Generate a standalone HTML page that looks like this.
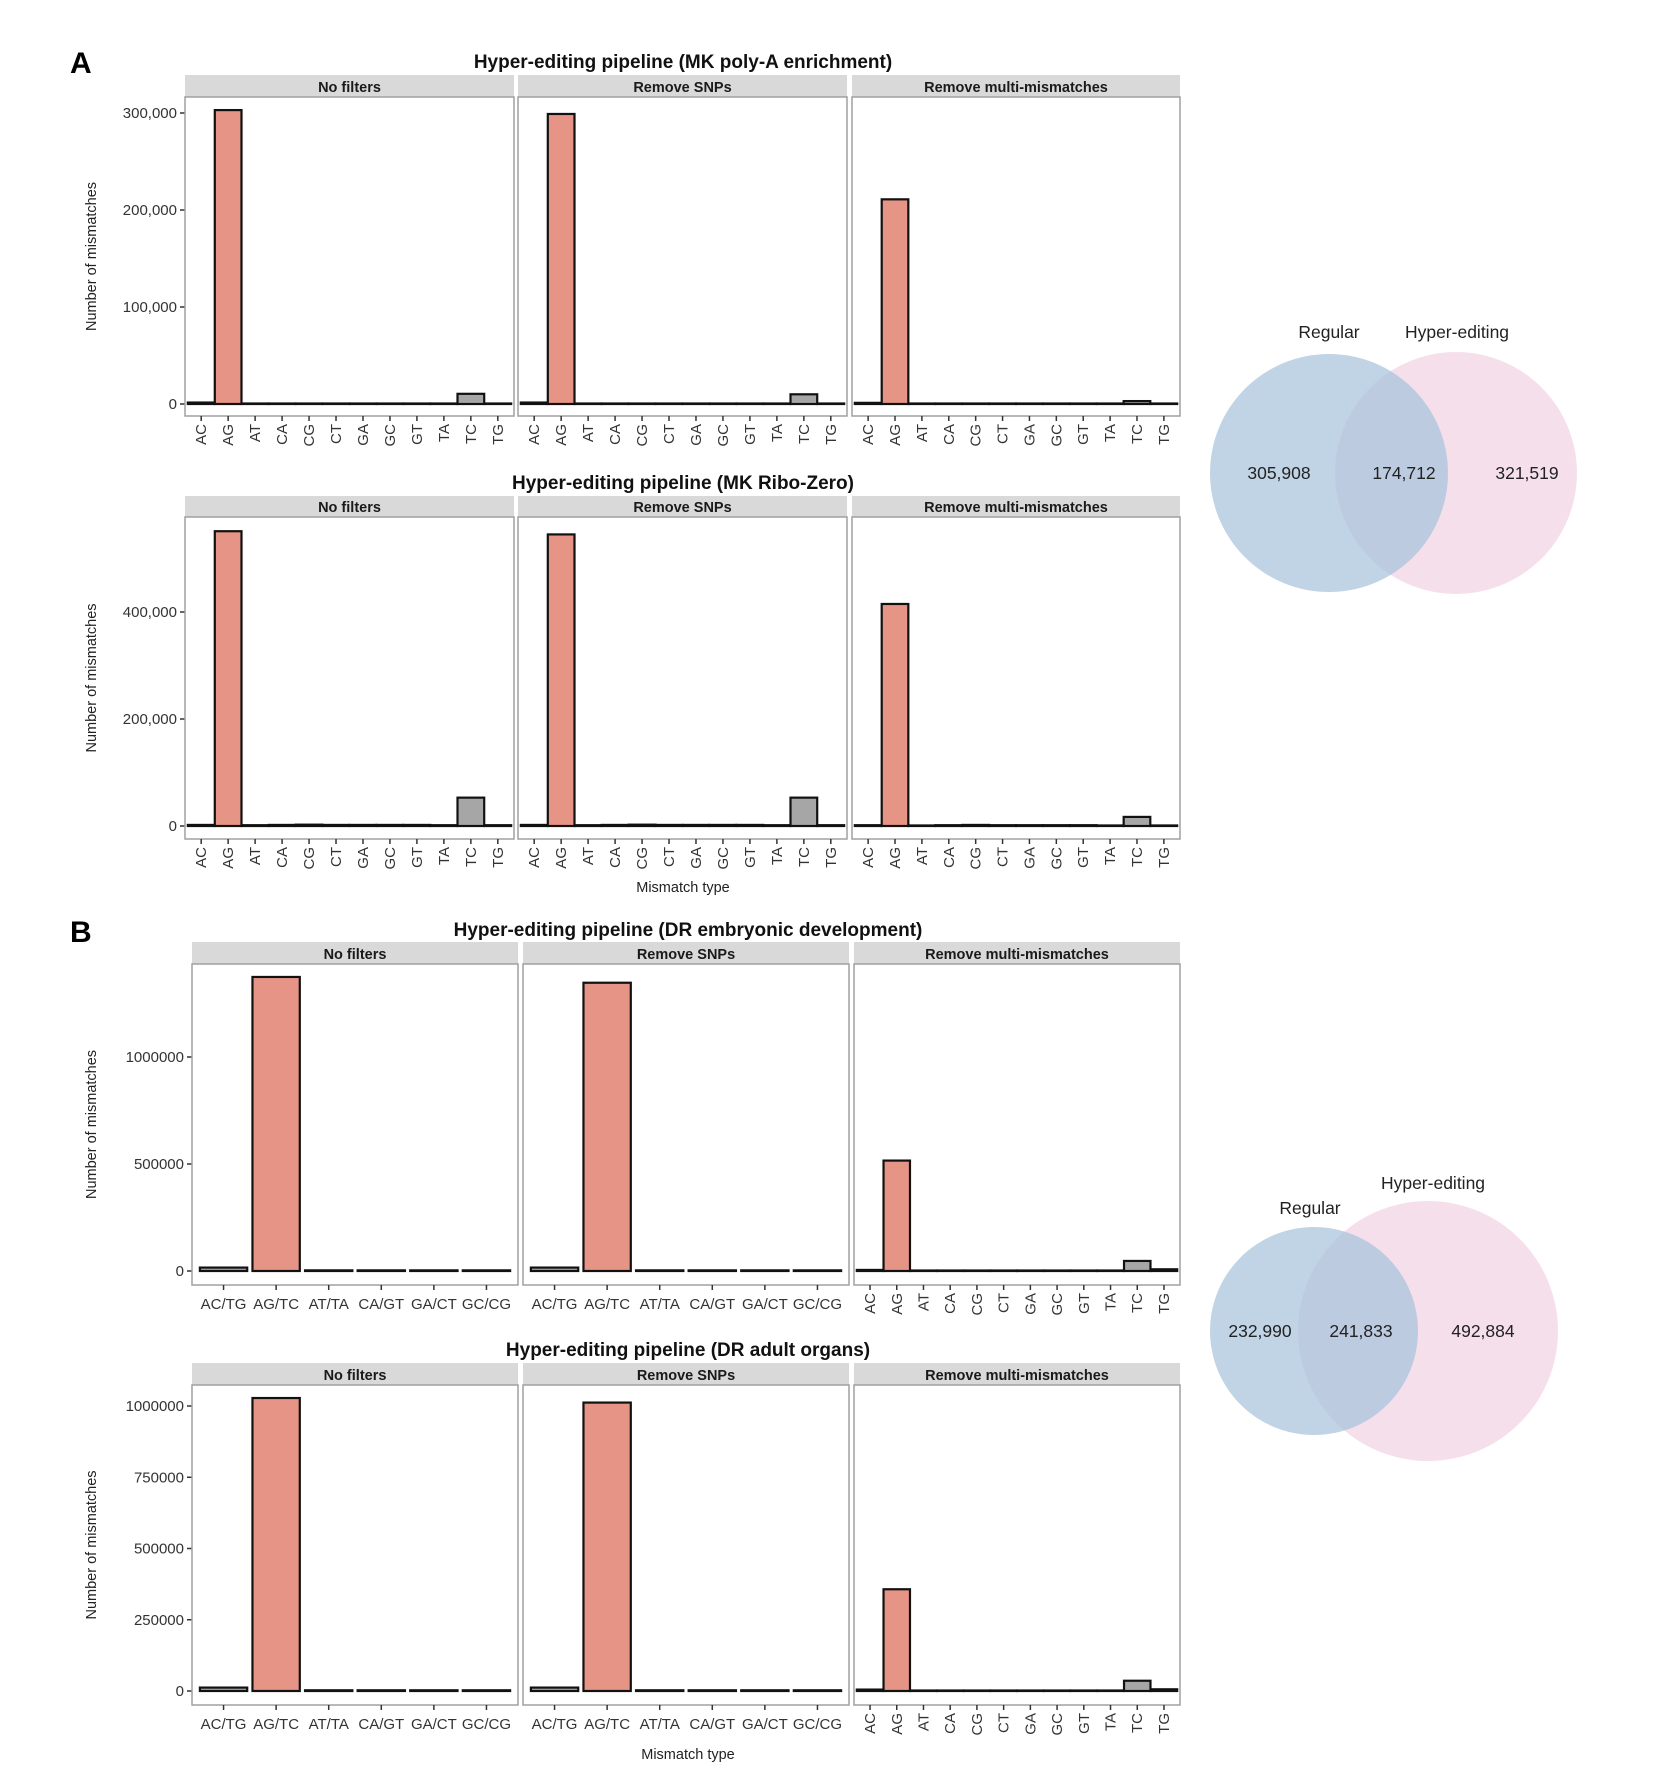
<!DOCTYPE html>
<html><head><meta charset="utf-8"><style>
body{margin:0;background:#fff;}
svg{display:block;font-family:"Liberation Sans",Arial,sans-serif;}
</style></head><body>
<svg id="fig" width="1672" height="1776" viewBox="0 0 1672 1776"></svg>
<script>
// ---------- data ----------
const cats12 = ["AC","AG","AT","CA","CG","CT","GA","GC","GT","TA","TC","TG"];
const cats6 = ["AC/TG","AG/TC","AT/TA","CA/GT","GA/CT","GC/CG"];
const facetNames = ["No filters","Remove SNPs","Remove multi-mismatches"];

const polyA_noFilter = [1500,303000,300,300,300,300,300,300,300,300,10500,300];
const polyA_removeSNP = [1500,299000,300,300,300,300,300,300,300,300,10000,300];
const polyA_multi = [1200,211000,200,200,200,200,200,200,200,200,3000,200];
const polyA_ticks = [0,100000,200000,300000];
const polyA_tickLabels = ["0","100,000","200,000","300,000"];

const ribo_noFilter = [2000,551000,1500,2000,2500,2000,2000,2000,2000,1500,53000,1500];
const ribo_removeSNP = [2000,545000,1500,2000,2500,2000,2000,2000,2000,1500,53000,1500];
const ribo_multi = [1500,415000,1000,1500,2000,1500,1500,1500,1500,1000,17000,1000];
const ribo_ticks = [0,200000,400000];
const ribo_tickLabels = ["0","200,000","400,000"];

const embryo_noFilter = [16000,1374000,3000,3000,3000,3000];
const embryo_removeSNP = [16000,1347000,3000,3000,3000,3000];
const embryo_multi = [5000,516000,2000,2000,2000,2000,2000,2000,2000,2000,47000,8000];
const embryo_ticks = [0,500000,1000000];
const embryo_tickLabels = ["0","500000","1000000"];

const adult_noFilter = [12000,1028000,2500,2500,2500,2500];
const adult_removeSNP = [12000,1012000,2500,2500,2500,2500];
const adult_multi = [5000,357000,1500,1500,1500,1500,1500,1500,1500,1500,36000,6000];
const adult_ticks = [0,250000,500000,750000,1000000];
const adult_tickLabels = ["0","250000","500000","750000","1000000"];

const venn1 = [305908,174712,321519];
const venn2 = [232990,241833,492884];

// ---------- drawing ----------
const NS="http://www.w3.org/2000/svg";
const svg=document.getElementById('fig');
function mk(tag,attrs,parent){const e=document.createElementNS(NS,tag);for(const k in attrs)e.setAttribute(k,attrs[k]);(parent||svg).appendChild(e);return e;}
function txt(s,attrs,parent){const e=mk('text',attrs,parent);e.textContent=s;return e;}
const fmt=v=>v.toLocaleString('en-US');

function drawRow(cfg){
  const g=mk('g',{});
  
  
  const t=txt(cfg.title,{x:cfg.titleX,y:cfg.titleY,'text-anchor':'middle','font-size':19,'font-weight':'bold',fill:'#111'},g);
  
  
  const yScale=v=>cfg.zeroY-(v-0)*cfg.pxPerUnit;
  cfg.ticks.forEach((tv,i)=>{
    const y=yScale(tv);
    mk('line',{x1:cfg.panels[0][0]-5,x2:cfg.panels[0][0],y1:y,y2:y,stroke:'#333','stroke-width':1.5},g);
    const l=txt(cfg.tickLabels[i],{x:cfg.panels[0][0]-8,y:y+5,'text-anchor':'end','font-size':15,fill:'#333'},g);
    
    
  });
  const yt=txt('Number of mismatches',{x:0,y:0,'text-anchor':'middle','font-size':14.5,fill:'#222',transform:`translate(${cfg.yTitleX},${(cfg.plotTop+cfg.plotBottom)/2}) rotate(-90)`},g);
  
  
  cfg.panels.forEach((p,pi)=>{
    const [x0,x1]=p;
    const pg=mk('g',{},g);
    
    
    mk('rect',{x:x0,y:cfg.stripTop,width:x1-x0,height:cfg.plotTop-cfg.stripTop,fill:'#d9d9d9'},pg);
    const st=txt(facetNames[pi],{x:(x0+x1)/2,y:cfg.plotTop-5,'text-anchor':'middle','font-size':14.5,'font-weight':'bold',fill:'#1a1a1a'},pg);
    
    
    mk('rect',{x:x0,y:cfg.plotTop,width:x1-x0,height:cfg.plotBottom-cfg.plotTop,fill:'#fff',stroke:'#a0a0a0','stroke-width':1.5},pg);
    const cats=cfg.catsPerPanel[pi], vals=cfg.values[pi];
    const n=cats.length, unit=(x1-x0)/(n-1+1.2);
    const xc=i=>x0+unit*(0.6+i);
    const bw=n>6?unit*0.99:unit*0.9;
    vals.forEach((v,i)=>{
      const top=yScale(v), h=Math.max(cfg.zeroY-top,0.5);
      const fill=cats[i]==='AG'||cats[i]==='AG/TC'?'#e69486':'#a6a6a6';
      const r=mk('rect',{x:xc(i)-bw/2,y:cfg.zeroY-h,width:bw,height:h,fill:fill,stroke:'#111','stroke-width':2.2},pg);
      
      
    });
    cats.forEach((c,i)=>{
      const x=xc(i);
      mk('line',{x1:x,x2:x,y1:cfg.plotBottom,y2:cfg.plotBottom+5,stroke:'#333','stroke-width':1.5},pg);
      let l;
      if(n>6){
        l=txt(c,{x:0,y:0,'text-anchor':'end','font-size':15,fill:'#333',transform:`translate(${x+5},${cfg.plotBottom+8}) rotate(-90)`},pg);
      } else {
        l=txt(c,{x:x,y:cfg.plotBottom+24,'text-anchor':'middle','font-size':15,fill:'#333'},pg);
      }
      
      
    });
  });
  if(cfg.xTitleY){
    const xt=txt('Mismatch type',{x:cfg.xTitleX,y:cfg.xTitleY,'text-anchor':'middle','font-size':14.5,fill:'#222'},g);
    
    
  }
}

const panA=[[185,514],[518,847],[852,1180]];
const panB=[[192,518],[523,849],[854,1180]];

drawRow({name:'chart-mk-polya',title:'Hyper-editing pipeline (MK poly-A enrichment)',titleX:683,titleY:68,
  panels:panA,stripTop:75,plotTop:97,plotBottom:416,zeroY:404,pxPerUnit:291/300000,
  ticks:polyA_ticks,tickLabels:polyA_tickLabels,yTitleX:96,
  catsPerPanel:[cats12,cats12,cats12],values:[polyA_noFilter,polyA_removeSNP,polyA_multi]});
drawRow({name:'chart-mk-ribozero',title:'Hyper-editing pipeline (MK Ribo-Zero)',titleX:683,titleY:489,
  panels:panA,stripTop:496,plotTop:517,plotBottom:839,zeroY:826,pxPerUnit:107/200000,
  ticks:ribo_ticks,tickLabels:ribo_tickLabels,yTitleX:96,xTitleX:683,xTitleY:892,
  catsPerPanel:[cats12,cats12,cats12],values:[ribo_noFilter,ribo_removeSNP,ribo_multi]});
drawRow({name:'chart-dr-embryonic',title:'Hyper-editing pipeline (DR embryonic development)',titleX:688,titleY:936,
  panels:panB,stripTop:942,plotTop:964,plotBottom:1285,zeroY:1271,pxPerUnit:107/500000,
  ticks:embryo_ticks,tickLabels:embryo_tickLabels,yTitleX:96,
  catsPerPanel:[cats6,cats6,cats12],values:[embryo_noFilter,embryo_removeSNP,embryo_multi]});
drawRow({name:'chart-dr-adult',title:'Hyper-editing pipeline (DR adult organs)',titleX:688,titleY:1356,
  panels:panB,stripTop:1363,plotTop:1385,plotBottom:1705,zeroY:1691,pxPerUnit:71.25/250000,
  ticks:adult_ticks,tickLabels:adult_tickLabels,yTitleX:96,xTitleX:688,xTitleY:1759,
  catsPerPanel:[cats6,cats6,cats12],values:[adult_noFilter,adult_removeSNP,adult_multi]});

const la=txt('A',{x:70,y:73,'font-size':30,'font-weight':'bold',fill:'#000'});


const lb=txt('B',{x:70,y:942,'font-size':30,'font-weight':'bold',fill:'#000'});



function drawVenn(name,vals,b,p,labR,labH,numX,numY){
  const g=mk('g',{});
  
  
  const c2=mk('circle',{cx:p[0],cy:p[1],r:p[2],fill:'#f5dfeb'},g);
  
  
  const c1=mk('circle',{cx:b[0],cy:b[1],r:b[2],fill:'#a7c4dc','fill-opacity':0.72},g);
  
  
  const t1=txt('Regular',{x:labR[0],y:labR[1],'text-anchor':'middle','font-size':17.5,fill:'#222'},g);
  
  
  const t2=txt('Hyper-editing',{x:labH[0],y:labH[1],'text-anchor':'middle','font-size':17.5,fill:'#222'},g);
  
  
  vals.forEach((v,i)=>{
    const t=txt(fmt(v),{x:numX[i],y:numY,'text-anchor':'middle','font-size':17.5,fill:'#222'},g);
    
    
  });
}
drawVenn('venn-mk',venn1,[1329,473,119],[1456,473,121],[1329,338],[1457,338],[1279,1404,1527],479);
drawVenn('venn-dr',venn2,[1314,1331,104],[1428,1331,130],[1310,1214],[1433,1189],[1260,1361,1483],1337);
</script>
</body></html>
